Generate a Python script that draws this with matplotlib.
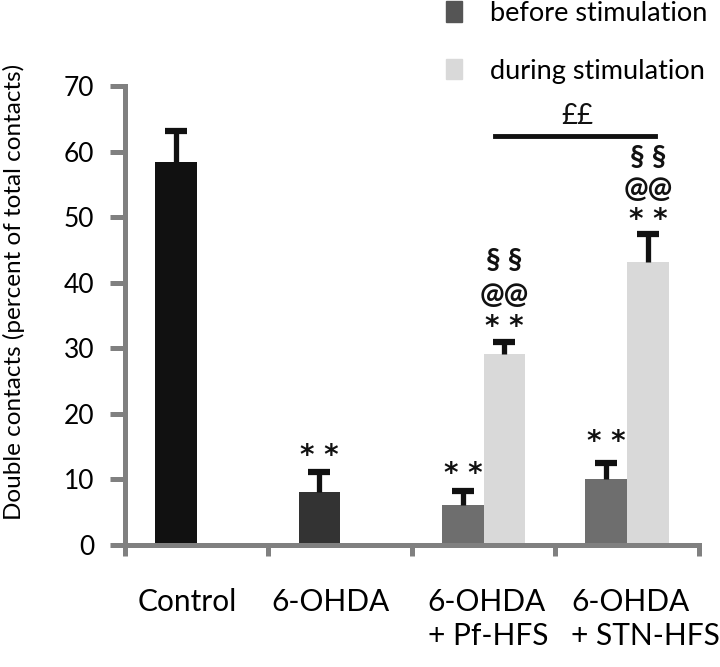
import matplotlib
matplotlib.use("Agg")
import matplotlib.pyplot as plt
from matplotlib.patches import Patch
import numpy as np

plt.rcParams['font.family'] = ['Lato', 'DejaVu Sans']

categories = ["Control", "6-OHDA", "6-OHDA\n+ Pf-HFS", "6-OHDA\n+ STN-HFS"]
before_vals = [58.4, 8.0, 6.1, 10.1]
before_errs = [4.8, 3.1, 2.2, 2.4]
during_vals = [np.nan, np.nan, 29.1, 43.1]
during_errs = [np.nan, np.nan, 1.9, 4.3]
before_colors = ["#111111", "#333333", "#6e6e6e", "#6e6e6e"]
during_color = "#d9d9d9"
legend_labels = ["before stimulation", "during stimulation"]

# annotations: (category index, series, y, text)
annotations = [
    (1, "b", 13.6, "**"),
    (2, "b", 10.8, "**"),
    (3, "b", 15.7, "**"),
    (2, "d", 33.2, "**"),
    (2, "d", 37.9, "@@"),
    (2, "d", 43.3, "§ §"),
    (3, "d", 49.6, "**"),
    (3, "d", 54.1, "@@"),
    (3, "d", 59.0, "§ §"),
]

fig = plt.figure(figsize=(7.2, 6.67), dpi=100)
ax = fig.add_axes([0.1736, 0.183, 0.797, 0.688])

x = np.arange(len(categories))
w = 0.29
bv = np.array(before_vals)
be = np.array(before_errs)
dv = np.array(during_vals)
de = np.array(during_errs)
ax.bar(x - w / 2, bv, w, color=before_colors, zorder=2)
ax.bar(x + w / 2, dv, w, color=during_color, zorder=2)
for xs, v, e in [(x - w / 2, bv, be), (x + w / 2, dv, de)]:
    ax.vlines(xs, v, v + e, color='#111111', lw=3.8, zorder=3)
    ax.plot(xs, v + e, ls='none', marker='_', ms=16, mew=4.5, color='#111111', zorder=3)

for ci, s, yv, txt in annotations:
    xc = ci - w / 2 if s == "b" else ci + w / 2
    if txt == "**":
        ax.text(xc, yv, "* *", ha='center', va='center', fontsize=20, fontweight='bold',
                family=['DejaVu Sans'], color='#111111')
    else:
        ax.text(xc, yv, txt, ha='center', va='center', fontsize=21, color='#111111',
                fontweight='bold')

ax.plot([2.08, 3.195], [62.4, 62.4], color='#111111', lw=3.5, clip_on=False)
ax.text(2.65, 65.4, "££", ha='center', va='center', fontsize=20, color='#111111')

ax.set_xlim(-0.5, 3.5)
ax.set_ylim(0, 70)
ax.set_yticks(np.arange(0, 71, 10))
ax.set_xticks(np.arange(-0.5, 3.6, 1))
ax.set_xticklabels([])
for xi, lab in zip(x, categories):
    if "\n" in lab:
        ax.text(xi - 0.39, -6.5, lab, ha='left', va='top', fontsize=21.5, linespacing=1.3)
    else:
        ax.text(xi - 0.065, -6.5, lab, ha='center', va='top', fontsize=21.5)

for sp in ['top', 'right']:
    ax.spines[sp].set_visible(False)
for sp in ['left', 'bottom']:
    ax.spines[sp].set_color('#808080')
    ax.spines[sp].set_linewidth(3.6)
ax.tick_params(axis='y', color='#808080', width=3.6, length=11, direction='out',
               labelsize=19, pad=11)
ax.tick_params(axis='x', color='#808080', width=3.6, length=8, direction='out')
ax.set_ylabel("Double contacts (percent of total contacts)", fontsize=17.5)
ax.yaxis.set_label_coords(-0.174, 0.551)

handles = [Patch(color="#555555"), Patch(color="#d9d9d9")]
fig.legend(handles, legend_labels, loc='upper left', bbox_to_anchor=(0.585, 1.035),
           frameon=False, fontsize=19.5, handlelength=0.6, handleheight=0.8,
           labelspacing=1.2, handletextpad=1.05)

fig.savefig("out.png", dpi=100)
